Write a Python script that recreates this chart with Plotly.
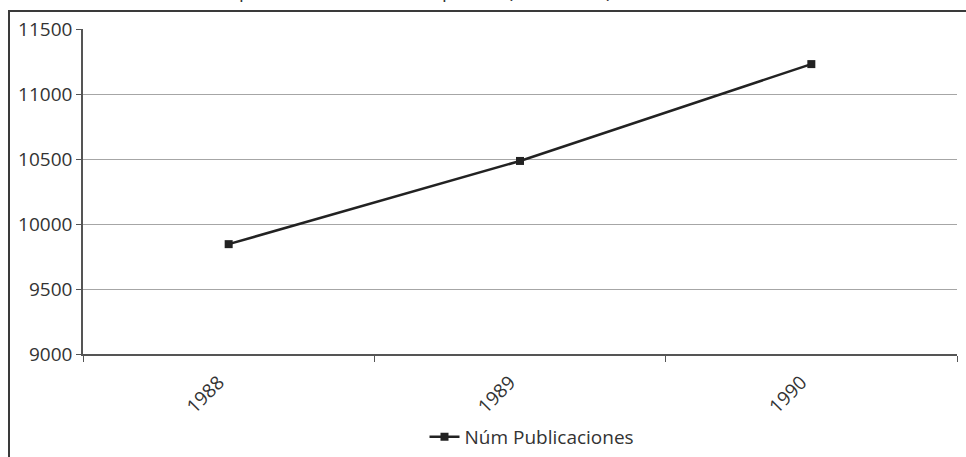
import plotly.graph_objects as go

# Annual number of publications
years = ["1988", "1989", "1990"]
publicaciones = [9845, 10485, 11230]
y_ticks = [9000, 9500, 10000, 10500, 11000, 11500]
y_tick_labels = ["9000", "9500", "10000", "10500", "11000", "11500"]
series_name = "Núm Publicaciones"
title_text = "Gráfico 1. Evolución de la producción editorial española (1988-1990)"

FONT = "Open Sans, Liberation Sans, sans-serif"
TEXT_COLOR = "#333333"

fig = go.Figure()
fig.add_trace(go.Scatter(
    x=years,
    y=publicaciones,
    mode="lines+markers",
    name=series_name,
    line=dict(color="#222222", width=2.5),
    marker=dict(symbol="square", size=8, color="#222222"),
))

W, H = 966, 457
L, R, T, B = 83, 9, 29, 103
pw, ph = W - L - R, H - T - B

def px_x(x):
    return (x - L) / pw

def px_y(y):
    return (H - B - y) / ph

fig.update_layout(
    width=W, height=H,
    margin=dict(l=L, r=R, t=T, b=B, autoexpand=False),
    paper_bgcolor="white",
    plot_bgcolor="white",
    font=dict(family=FONT, color=TEXT_COLOR, size=19),
    showlegend=True,
    legend=dict(
        orientation="h",
        x=px_x(532), xanchor="center",
        y=px_y(437), yanchor="middle",
        font=dict(size=19, color=TEXT_COLOR),
        bgcolor="rgba(0,0,0,0)",
        itemwidth=30,
    ),
    xaxis=dict(
        type="category",
        range=[-0.5, 2.5],
        automargin=False,
        showgrid=False,
        showline=True,
        linecolor="#555555",
        linewidth=1.5,
        ticks="outside",
        tickson="boundaries",
        ticklen=6,
        tickcolor="#555555",
        tickangle=-45,
        ticklabelstandoff=8,
        ticklabelshift=-10,
        tickfont=dict(size=19, color=TEXT_COLOR),
        fixedrange=True,
    ),
    yaxis=dict(
        range=[9000, 11500],
        automargin=False,
        tickvals=y_ticks,
        ticktext=y_tick_labels,
        showgrid=True,
        gridcolor="#a6a6a6",
        gridwidth=1,
        showline=True,
        linecolor="#555555",
        linewidth=1.5,
        ticks="outside",
        ticklen=5,
        tickcolor="#555555",
        tickfont=dict(size=19, color=TEXT_COLOR),
        zeroline=False,
        fixedrange=True,
    ),
    shapes=[
        # chart frame
        dict(
            type="rect", xref="paper", yref="paper",
            x0=px_x(9), x1=px_x(W + 20),
            y0=px_y(H + 20), y1=px_y(11),
            line=dict(color="#3a3a3a", width=2),
            fillcolor="rgba(0,0,0,0)",
            layer="below",
        ),
    ],
    annotations=[
        dict(
            text=title_text,
            xref="paper", yref="paper",
            x=px_x(10), xanchor="left",
            y=px_y(6), yanchor="bottom",
            showarrow=False,
            font=dict(size=19, color=TEXT_COLOR),
        ),
    ],
)

fig.write_html("out.html")
